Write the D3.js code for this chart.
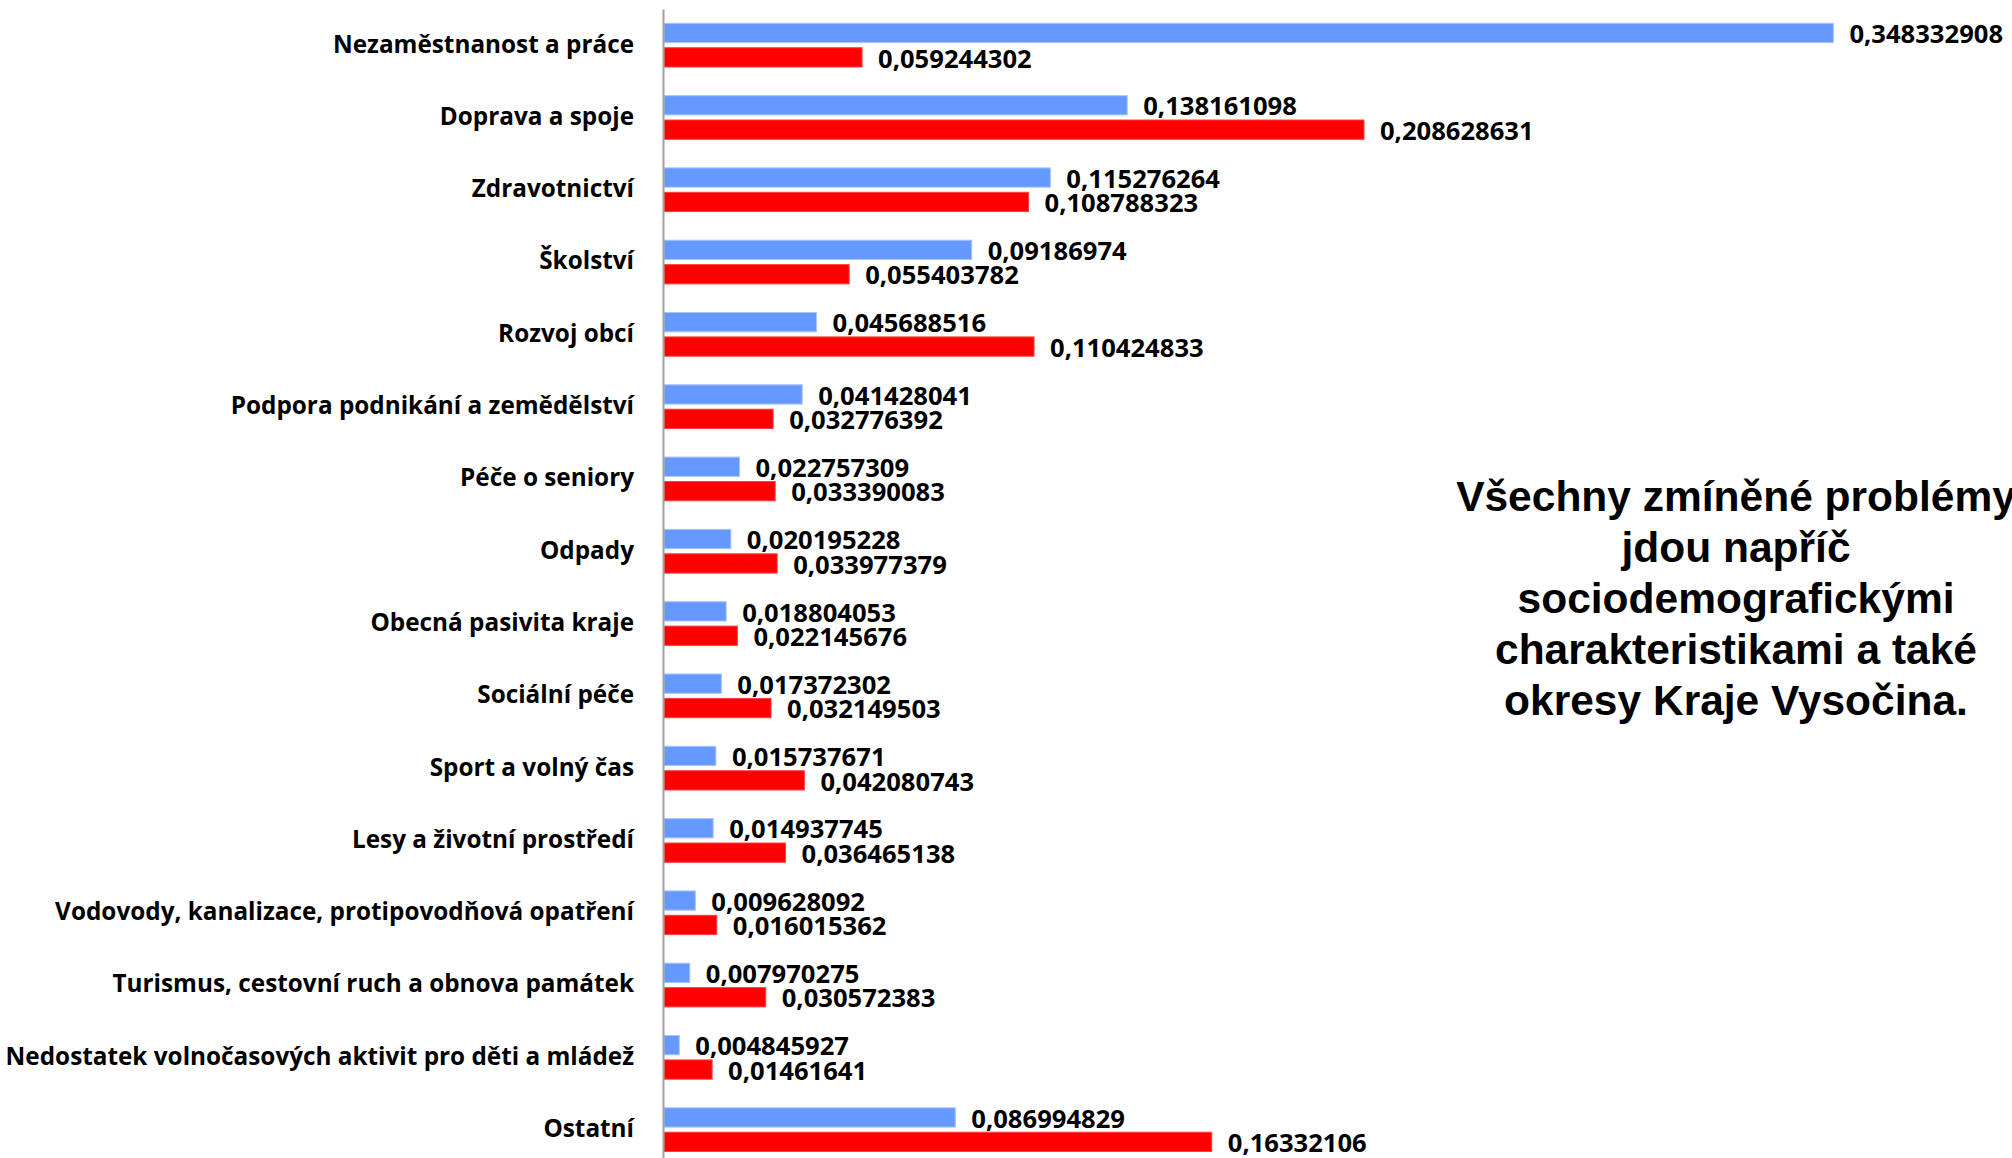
<!DOCTYPE html>
<html>
<head>
<meta charset="utf-8">
<script src="https://cdn.jsdelivr.net/npm/d3@7"></script>
<style>
  html, body { margin: 0; padding: 0; background: #ffffff; }
  svg { display: block; }
</style>
</head>
<body>
<svg id="chart" width="2012" height="1158"></svg>
<script>
const categories = [
  "Nezaměstnanost a práce",
  "Doprava a spoje",
  "Zdravotnictví",
  "Školství",
  "Rozvoj obcí",
  "Podpora podnikání a zemědělství",
  "Péče o seniory",
  "Odpady",
  "Obecná pasivita kraje",
  "Sociální péče",
  "Sport a volný čas",
  "Lesy a životní prostředí",
  "Vodovody, kanalizace, protipovodňová opatření",
  "Turismus, cestovní ruch a obnova památek",
  "Nedostatek volnočasových aktivit pro děti a mládež",
  "Ostatní"
];
const seriesBlue = [0.348332908, 0.138161098, 0.115276264, 0.09186974, 0.045688516, 0.041428041, 0.022757309, 0.020195228, 0.018804053, 0.017372302, 0.015737671, 0.014937745, 0.009628092, 0.007970275, 0.004845927, 0.086994829];
const seriesRed  = [0.059244302, 0.208628631, 0.108788323, 0.055403782, 0.110424833, 0.032776392, 0.033390083, 0.033977379, 0.022145676, 0.032149503, 0.042080743, 0.036465138, 0.016015362, 0.030572383, 0.01461641, 0.16332106];
const seriesNames = ["blue", "red"];
const noteLines = [
  "Všechny zmíněné problémy",
  "jdou napříč",
  "sociodemografickými",
  "charakteristikami a také",
  "okresy Kraje Vysočina."
];

const colors = { blue: "#6699ff", red: "#ff0000" };
const strokes = { blue: "#a8c4ff", red: "#ff4040" };
const labelFont = "'Open Sans', sans-serif";

const svg = d3.select("#chart");

const x = d3.scaleLinear().domain([0, 0.4]).range([663, 2007]);
const y = d3.scaleBand().domain(categories).range([9, 9 + 16 * 72.3]).paddingInner(0).paddingOuter(0);
const ySub = d3.scaleBand().domain(seriesNames).range([14.3, 58]).paddingInner(0.21);

const data = categories.map((c, i) => ({ cat: c, blue: seriesBlue[i], red: seriesRed[i] }));

// bars
const groups = svg.append("g").selectAll("g.cat")
  .data(data).join("g")
  .attr("class", "cat")
  .attr("transform", d => `translate(0,${y(d.cat)})`);

groups.selectAll("rect")
  .data(d => seriesNames.map(s => ({ s, v: d[s] })))
  .join("rect")
  .attr("x", x(0) + 1)
  .attr("y", d => ySub(d.s))
  .attr("width", d => x(d.v) - x(0) - 1)
  .attr("height", ySub.bandwidth())
  .attr("fill", d => colors[d.s])
  .attr("stroke", d => strokes[d.s])
  .attr("stroke-width", 1);

groups.selectAll("text.val")
  .data(d => seriesNames.map(s => ({ s, v: d[s] })))
  .join("text")
  .attr("class", "val")
  .attr("x", d => x(d.v) + 16)
  .attr("y", d => ySub(d.s) + ySub.bandwidth() / 2 + 1)
  .attr("dy", "0.36em")
  .attr("font-family", labelFont)
  .attr("font-weight", 700)
  .attr("font-size", 25.6)
  .attr("fill", "#000")
  .text(d => String(d.v).replace(".", ","));

// axis
const labelSqueeze = 0.95;
const axis = d3.axisLeft(y).tickSize(0).tickSizeOuter(0).tickPadding(29);
const ag = svg.append("g").attr("transform", `translate(${x(0)},0)`).call(axis);
ag.select(".domain").attr("stroke", "#a0a0a0").attr("stroke-width", 2);
ag.selectAll(".tick text")
  .attr("font-family", labelFont)
  .attr("font-weight", 700)
  .attr("font-size", 25.6)
  .attr("fill", "#000")
  .attr("dy", "0.29em")
  .attr("x", -29 / labelSqueeze)
  .attr("transform", `scale(${labelSqueeze},1)`);

// annotation
const cx = 1736;
const note = svg.append("g").attr("transform", `translate(${cx},0)`);
note.selectAll("text")
  .data(noteLines)
  .join("text")
  .attr("x", 0)
  .attr("y", (d, i) => 511 + i * 51)
  .attr("text-anchor", "middle")
  .attr("font-family", "'Liberation Sans', Arial, sans-serif")
  .attr("font-weight", 700)
  .attr("font-size", 42.5)
  .attr("fill", "#000")
  .text(d => d);
</script>
</body>
</html>
